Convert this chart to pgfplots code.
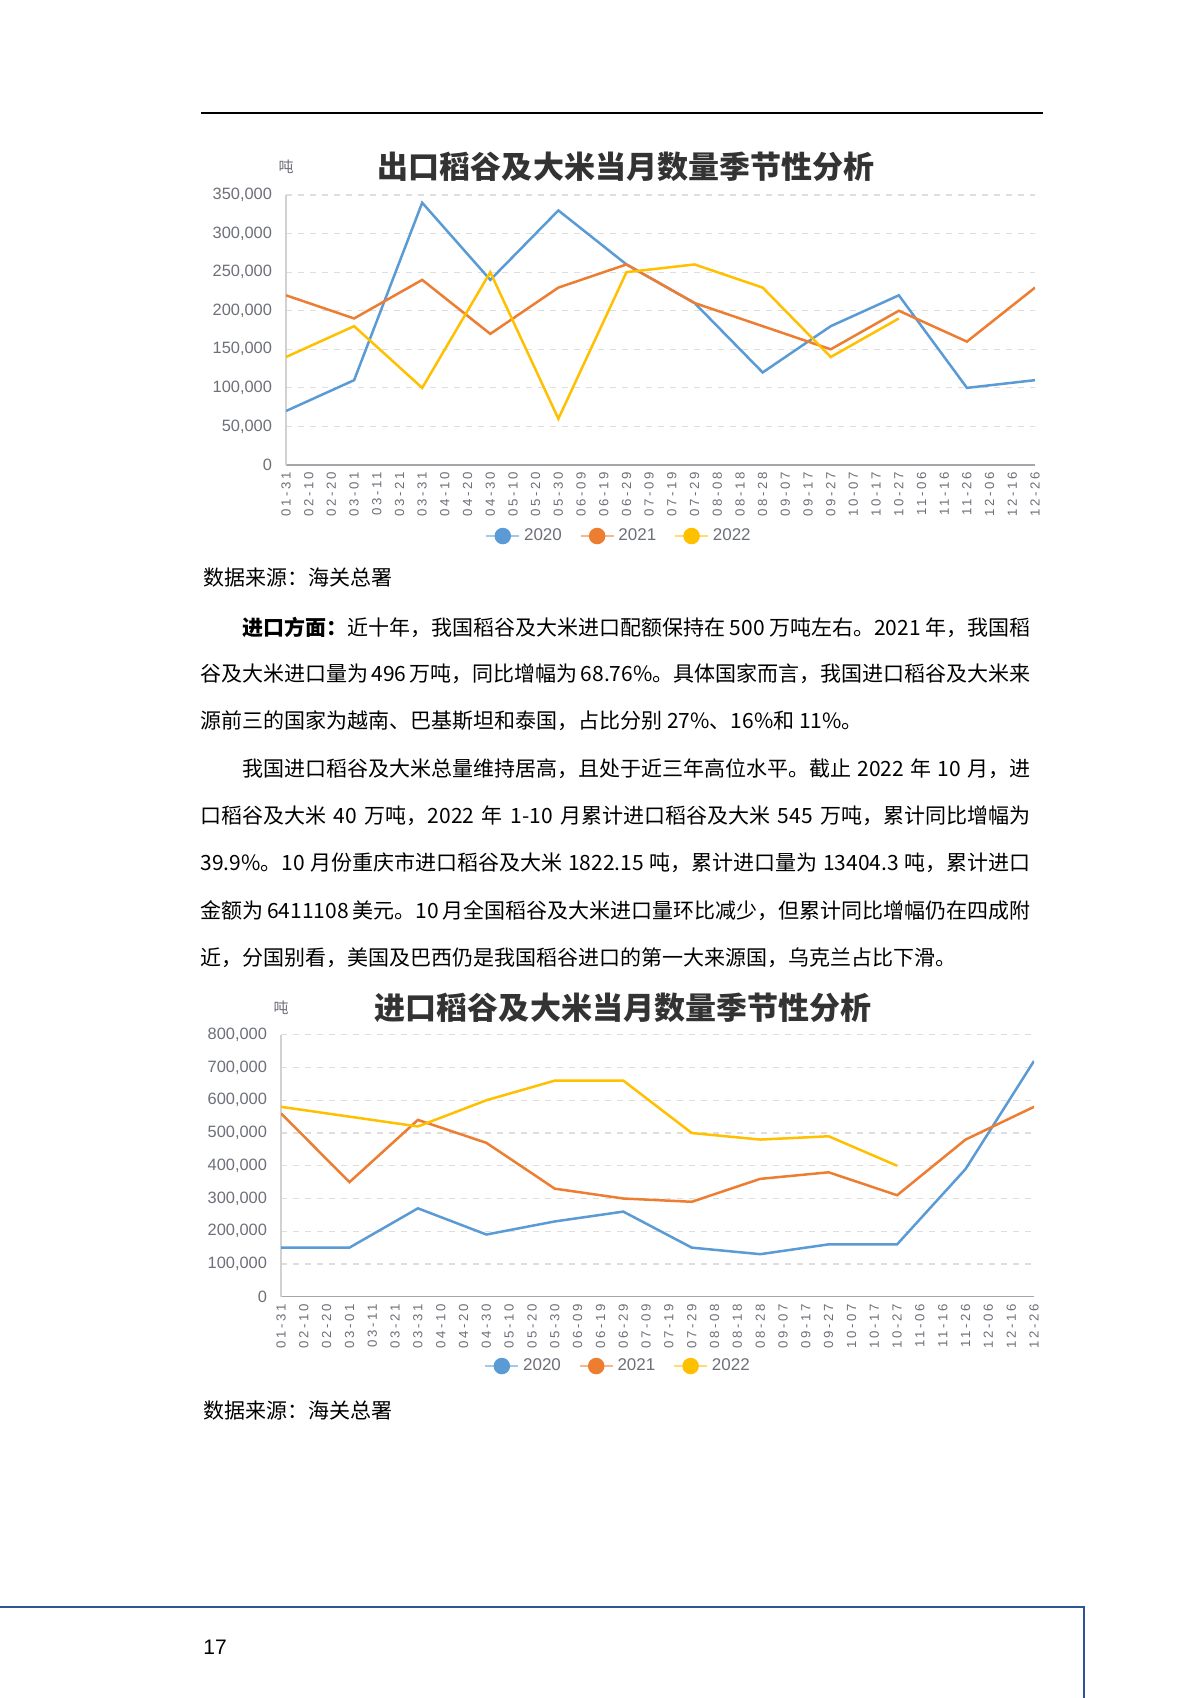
\documentclass[border=0pt]{standalone}
\usepackage{pgfplots}
\pgfplotsset{compat=1.18}
\usepackage{fontspec}
\setmainfont{Liberation Sans}
\newfontfamily\cjk{Noto Sans CJK SC}
\XeTeXlinebreaklocale "zh"
\XeTeXlinebreakskip=0pt plus 4pt

\definecolor{c20}{HTML}{5B9BD5}
\definecolor{c21}{HTML}{ED7D31}
\definecolor{c22}{HTML}{FFC000}
\definecolor{lbl}{HTML}{6E7079}
\definecolor{gridc}{HTML}{DEDEDE}
\definecolor{foot}{HTML}{2F5597}

\pgfplotsset{
  seas/.style={
    scale only axis, anchor=south west,
    xmin=0, xmax=33, ymin=0,
    axis x line*=bottom, axis y line*=left,
    x axis line style={color=black!35, line width=0.6bp},
    y axis line style={color=black!18, line width=0.6bp},
    xtick={0,...,33},
    xticklabels={01-31,02-10,02-20,03-01,03-11,03-21,03-31,04-10,04-20,04-30,05-10,05-20,05-30,06-09,06-19,06-29,07-09,07-19,07-29,08-08,08-18,08-28,09-07,09-17,09-27,10-07,10-17,10-27,11-06,11-16,11-26,12-06,12-16,12-26},
    xtick style={draw=none},
    extra x ticks={0.5,1.5,...,32.5,33},
    extra x tick labels={},
    extra x tick style={tick align=outside, major tick length=2.5bp,
      tick style={draw=black!35, line width=0.5bp}, xmajorgrids=false},
    ytick style={draw=none},
    ymajorgrids,
    grid style={dash pattern=on 3bp off 3bp, color=gridc, line width=0.6bp},
    scaled y ticks=false,
    /pgf/number format/.cd, fixed, 1000 sep={,}, assume math mode=true,
    /pgfplots/.cd,
    yticklabel style={font=\fontsize{8.2bp}{9bp}\selectfont, text=lbl, xshift=-3.5bp},
    xticklabel style={rotate=90, anchor=east, text=lbl,
      font=\fontsize{6.6bp}{7bp}\selectfont\addfontfeature{LetterSpace=20}},
    legend columns=3,
    legend style={draw=none, fill=none, text=lbl,
      font=\fontsize{8.5bp}{9bp}\selectfont,
      /tikz/every even column/.append style={column sep=7bp}},
    legend image code/.code={
      \draw[#1, line width=0.8bp, opacity=0.55] (0bp,0bp) -- (16.5bp,0bp);
      \fill[#1] (8.25bp,0bp) circle (3.5bp);},
    every axis plot/.append style={line width=1.25bp, no marks, sharp plot},
  }
}

\begin{document}
\begin{tikzpicture}
\begin{scope}[x=0.5bp, y=-0.5bp]
  \path[use as bounding box, fill=white] (0,0) rectangle (1200,1698);
  \draw[line width=1.1bp] (201,113) -- (1043,113);

  % titles of the two charts
  \node[font=\cjk\bfseries\fontsize{15.5bp}{17bp}\selectfont, text=black!80] at (626,167) {出口稻谷及大米当月数量季节性分析};
  \node[font=\cjk\fontsize{7.5bp}{8bp}\selectfont, text=lbl] at (286,167) {吨};
  \node[font=\cjk\bfseries\fontsize{15.5bp}{17bp}\selectfont, text=black!80] at (623,1008) {进口稻谷及大米当月数量季节性分析};
  \node[font=\cjk\fontsize{7.5bp}{8bp}\selectfont, text=lbl] at (281,1008) {吨};

  % body text
  \begin{scope}[every node/.style={anchor=west, inner sep=0, font=\cjk\fontsize{10.5bp}{12bp}\selectfont}]
    \node at (203,578) {数据来源：海关总署};
    \node at (242,627) {\makebox[394bp][s]{\textbf{进口方面：}近十年，我国稻谷及大米进口配额保持在 500 万吨左右。2021 年，我国稻}};
    \node at (200,674) {\makebox[415bp][s]{谷及大米进口量为 496 万吨，同比增幅为 68.76\%。具体国家而言，我国进口稻谷及大米来}};
    \node at (200,721) {源前三的国家为越南、巴基斯坦和泰国，占比分别 27\%、16\%和 11\%。};
    \node at (242,769) {\makebox[394bp][s]{我国进口稻谷及大米总量维持居高，且处于近三年高位水平。截止 2022 年 10 月，进}};
    \node at (200,816) {\makebox[415bp][s]{口稻谷及大米 40 万吨，2022 年 1-10 月累计进口稻谷及大米 545 万吨，累计同比增幅为}};
    \node at (200,863) {\makebox[415bp][s]{39.9\%。10 月份重庆市进口稻谷及大米 1822.15 吨，累计进口量为 13404.3 吨，累计进口}};
    \node at (200,911) {\makebox[415bp][s]{金额为 6411108 美元。10 月全国稻谷及大米进口量环比减少，但累计同比增幅仍在四成附}};
    \node at (200,958) {近，分国别看，美国及巴西仍是我国稻谷进口的第一大来源国，乌克兰占比下滑。};
    \node at (203,1411) {数据来源：海关总署};
  \end{scope}

  % footer
  \draw[foot, line width=1.4bp] (0,1607) -- (1084,1607) -- (1084,1700);
  \node[anchor=west, inner sep=0, font=\fontsize{10.5bp}{12bp}\selectfont] at (203,1647) {17};
\end{scope}

% chart 1: exports
\begin{axis}[seas, at={(143bp,-232.5bp)}, width=374.5bp, height=135bp,
  ymax=350000, ytick={0,50000,...,350000},
  legend style={at={(0.446,-0.263)}, anchor=center}]
\addplot[c20] coordinates {(0,70000) (3,110000) (6,340000) (9,240000) (12,330000) (15,260000) (18,210000) (21,120000) (24,180000) (27,220000) (30,100000) (33,110000)};
\addplot[c21] coordinates {(0,220000) (3,190000) (6,240000) (9,170000) (12,230000) (15,260000) (18,210000) (21,180000) (24,150000) (27,200000) (30,160000) (33,230000)};
\addplot[c22] coordinates {(0,140000) (3,180000) (6,100000) (9,250000) (12,60000) (15,250000) (18,260000) (21,230000) (24,140000) (27,190000)};
\legend{2020,2021,2022}
\end{axis}

% chart 2: imports
\begin{axis}[seas, at={(140.5bp,-648.35bp)}, width=376.5bp, height=131bp,
  ymax=800000, ytick={0,100000,...,800000},
  legend style={at={(0.449,-0.2645)}, anchor=center}]
\addplot[c20] coordinates {(0,150000) (3,150000) (6,270000) (9,190000) (12,230000) (15,260000) (18,150000) (21,130000) (24,160000) (27,160000) (30,390000) (33,720000)};
\addplot[c21] coordinates {(0,560000) (3,350000) (6,540000) (9,470000) (12,330000) (15,300000) (18,290000) (21,360000) (24,380000) (27,310000) (30,480000) (33,580000)};
\addplot[c22] coordinates {(0,580000) (3,550000) (6,520000) (9,600000) (12,660000) (15,660000) (18,500000) (21,480000) (24,490000) (27,400000)};
\legend{2020,2021,2022}
\end{axis}
\end{tikzpicture}
\end{document}
